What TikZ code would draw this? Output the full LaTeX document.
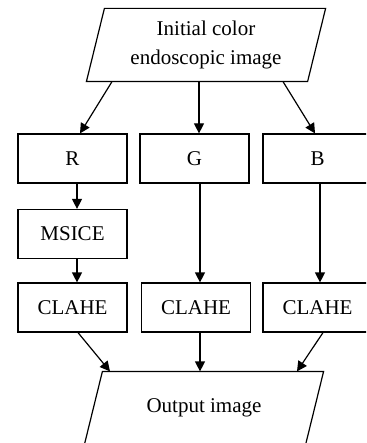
\documentclass[tikz,border=0pt]{standalone}
\usepackage{fontspec}
\setmainfont{Liberation Serif}
\usetikzlibrary{arrows.meta}
\tikzstyle{chan}=[draw,rectangle,align=center,minimum width=54.5pt,minimum height=24.5pt,inner sep=0]
\tikzstyle{io}=[rectangle,align=center,minimum width=110pt,minimum height=36pt,inner sep=0]
\tikzstyle{slant}=[draw,line join=miter]
\tikzstyle{flow}=[draw,-{Triangle[length=5pt,width=5pt]}]

\begin{document}
\begin{tikzpicture}[x=0.5pt,y=-0.5pt,line width=0.6pt,font=\fontsize{10.5}{14.5}\selectfont]
\clip (0,0) rectangle (366,443);
	\node[io] (im) at (206,45) {Initial color\\endoscopic image};
	\path[slant] ([xshift=-4.5pt]im.south west) -- ([xshift=4.5pt]im.north west)
		-- ([xshift=4.5pt]im.north east) -- ([xshift=-4.5pt]im.south east) -- cycle;

	\node[chan] (r) at (72.5,158.5) {R};
	\node[chan] (g) at (194.5,158.5) {G};
	\node[chan] (b) at (317.5,158.5) {B};

	\node[chan] (ms) at (72.5,234) {MSICE};

	\node[chan] (cr) at (72.5,307.5) {CLAHE};
	\node[chan] (cg) at (196,307.5) {CLAHE};
	\node[chan] (cb) at (317.5,307.5) {CLAHE};

	\node[io] (out) at (204,408) {Output image};
	\path[slant] ([xshift=-4.5pt]out.south west) -- ([xshift=4.5pt]out.north west)
		-- ([xshift=4.5pt]out.north east) -- ([xshift=-4.5pt]out.south east) -- cycle;

	\path[flow] (112,0 |- im.south) -- (80,0 |- r.north);
	\path[flow] (199,0 |- im.south) -- (199,0 |- g.north);
	\path[flow] (283,0 |- im.south) -- (315,0 |- b.north);

	\path[flow] (77,0 |- r.south) -- (77,0 |- ms.north);
	\path[flow] (77,0 |- ms.south) -- (77,0 |- cr.north);
	\path[flow] (200,0 |- g.south) -- (200,0 |- cg.north);
	\path[flow] (320,0 |- b.south) -- (320,0 |- cb.north);

	\path[flow] (78,0 |- cr.south) -- (110,0 |- out.north);
	\path[flow] (200,0 |- cg.south) -- (200,0 |- out.north);
	\path[flow] (323,0 |- cb.south) -- (297,0 |- out.north);
\end{tikzpicture}
\end{document}
